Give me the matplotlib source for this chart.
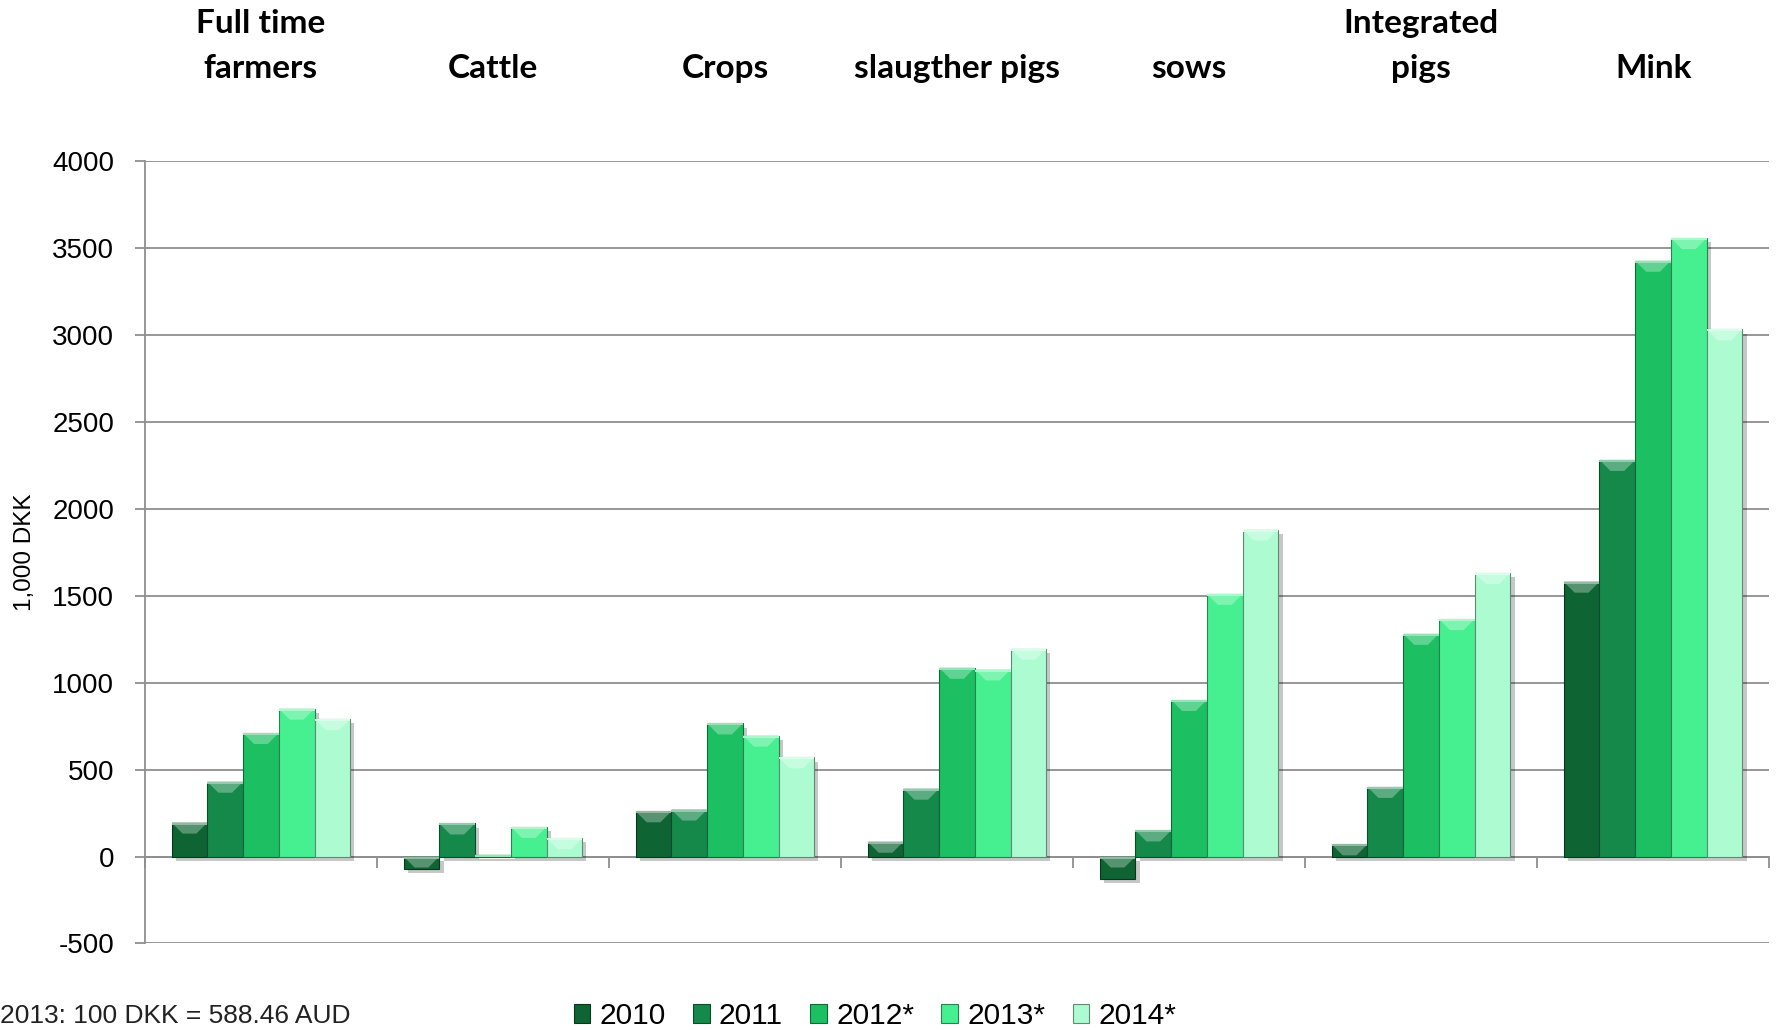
import numpy as np
import matplotlib
matplotlib.use("Agg")
import matplotlib.pyplot as plt
import matplotlib.patheffects as pe
import matplotlib.transforms as mtransforms
from matplotlib.patches import Polygon, Rectangle
from matplotlib.colors import to_rgb

# farm result per farm type, 1,000 DKK
categories = ["Full time\nfarmers", "Cattle", "Crops", "slaugther pigs", "sows", "Integrated\npigs", "Mink"]
years = ["2010", "2011", "2012*", "2013*", "2014*"]
v2010 = [195, -70, 260, 85, -130, 70, 1580]
v2011 = [430, 190, 270, 390, 150, 400, 2280]
v2012 = [710, 10, 765, 1085, 900, 1280, 3425]
v2013 = [850, 170, 695, 1075, 1510, 1365, 3555]
v2014 = [790, 105, 570, 1195, 1880, 1630, 3030]
yticks = [-500, 0, 500, 1000, 1500, 2000, 2500, 3000, 3500, 4000]
series = [v2010, v2011, v2012, v2013, v2014]
colors = ["#0e6433", "#14894a", "#1cbf62", "#46ef90", "#adfbd1"]

GRID = "#8f8f8f"


def mix(c, other, t):
    c = np.array(to_rgb(c))
    return tuple(c + (np.array(to_rgb(other)) - c) * t)


fig = plt.figure(figsize=(17.76, 10.30), dpi=100)
ax = fig.add_axes([0.0816, 0.0840, 0.9145, 0.7599])
ax.set_xlim(-0.5, len(categories) - 0.5)
ax.set_ylim(-500, 4000)

x = np.arange(len(categories))
w = 0.154
shadow = [pe.SimplePatchShadow(offset=(3, -3), shadow_rgbFace="k", alpha=0.22), pe.Normal()]

all_bars = []
for k, (vals, c) in enumerate(zip(series, colors)):
    bars = ax.bar(x + (k - 2) * w, vals, w, color=c, edgecolor=mix(c, "k", 0.45),
                  lw=0.8, zorder=3)
    for b in bars:
        b.set_path_effects(shadow)
    all_bars.append((bars, c))

# bevelled top on each bar (fixed size in pixels)
inv = ax.transData.inverted()
bev = 11
for bars, c in all_bars:
    for b in bars:
        x0, y0 = b.get_x(), b.get_y()
        x1, y1 = x0 + b.get_width(), y0 + b.get_height()
        (px0, py0), (px1, py1) = ax.transData.transform([(x0, min(y0, y1)), (x1, max(y0, y1))])
        bh = min(bev, py1 - py0)
        if bh < 1:
            continue
        ins = min(bh, (px1 - px0) / 2)
        pts = inv.transform([(px0, py1), (px1, py1), (px1 - ins, py1 - bh), (px0 + ins, py1 - bh)])
        ax.add_patch(Polygon(pts, closed=True, facecolor=mix(c, "w", 0.3), edgecolor="none", zorder=4))
        strip = inv.transform([(px0, py1), (px1, py1), (px1, py1 - 2), (px0, py1 - 2)])
        ax.add_patch(Polygon(strip, closed=True, facecolor=mix(c, "w", 0.55), edgecolor="none", zorder=4))

# axes styling
ax.set_yticks(yticks)
ax.set_yticklabels([str(v) for v in yticks])
ax.yaxis.grid(True, color=GRID, lw=1.3)
ax.set_axisbelow(True)
for s in ["top", "right"]:
    ax.spines[s].set_visible(False)
ax.spines["left"].set_color(GRID)
ax.spines["left"].set_linewidth(1.3)
ax.spines["bottom"].set_position(("data", 0))
ax.spines["bottom"].set_color(GRID)
ax.spines["bottom"].set_linewidth(1.3)
ax.set_xticks(np.arange(-0.5, len(categories), 1))
ax.set_xticklabels([])
ax.tick_params(axis="x", direction="out", length=8, width=1.3, color=GRID)
ax.tick_params(axis="y", direction="out", length=7, width=1.3, color=GRID, pad=15,
               labelsize=20)
for lab in ax.get_yticklabels():
    lab.set_family("Liberation Sans")

# category names above the plot
trans = mtransforms.blended_transform_factory(ax.transData, fig.transFigure)
for i, cat in enumerate(categories):
    ax.text(i, 1 - 78 / 1030, cat, transform=trans, ha="center", va="baseline",
            fontsize=24, fontweight="bold", family="Lato", linespacing=1.65)

fig.text(25 / 1776, 1 - 552 / 1030, "1,000 DKK", rotation=90, ha="center", va="center",
         fontsize=17.5, family="Liberation Sans")
fig.text(0.0, 0.0135, "2013: 100 DKK = 588.46 AUD", ha="left", va="center",
         fontsize=19, family="Liberation Sans", color="#222222")

handles = [Rectangle((0, 0), 1, 1, facecolor=c, edgecolor=mix(c, "k", 0.45), lw=0.8) for c in colors]
fig.legend(handles, years, loc="center left", bbox_to_anchor=(0.323, 0.0135), ncol=5,
           frameon=False, prop={"family": "Liberation Sans", "size": 21.5},
           handlelength=0.56, handleheight=0.56, handletextpad=0.3, columnspacing=0.92,
           borderpad=0, borderaxespad=0)

fig.savefig("out.png", dpi=100)
